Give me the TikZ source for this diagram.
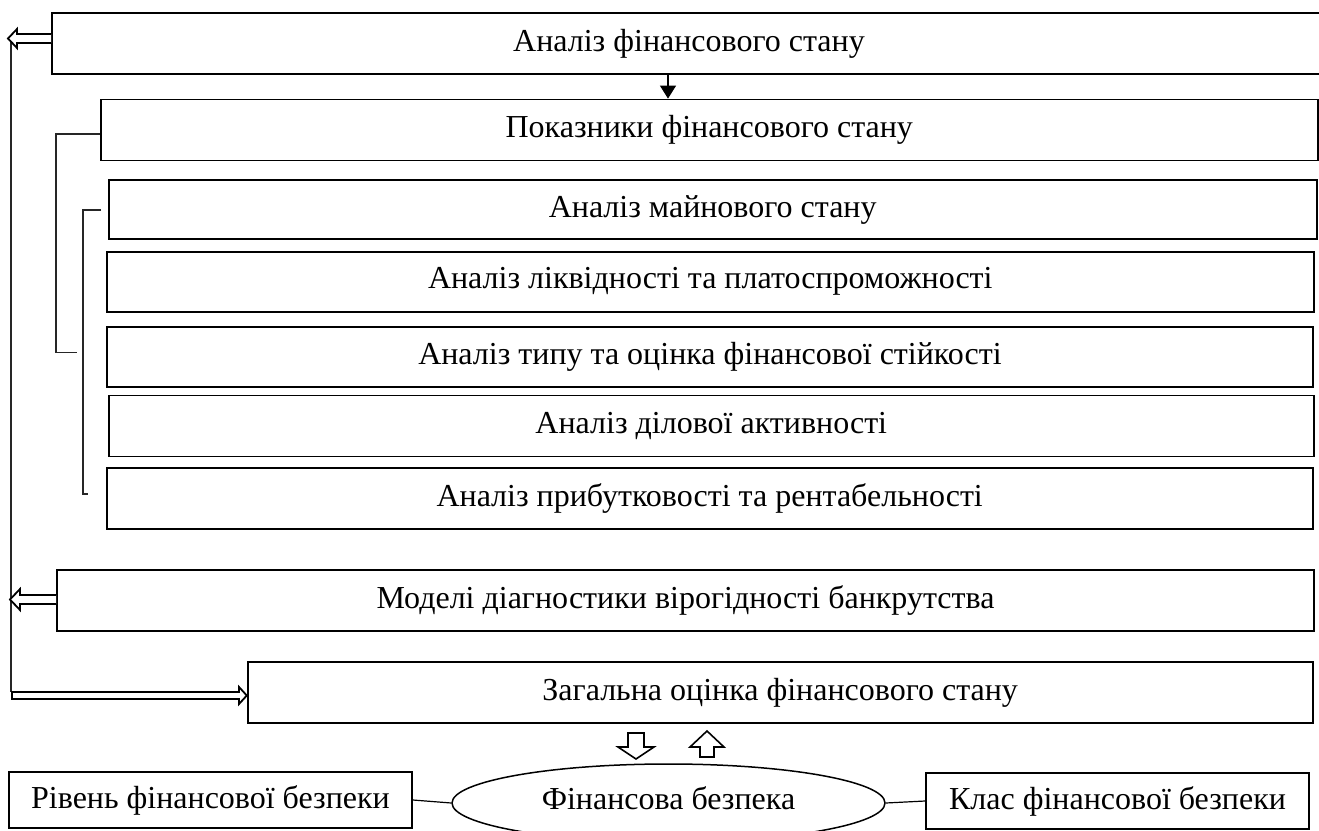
\documentclass[tikz,border=0pt]{standalone}
\usepackage{fontspec}
\setmainfont{Liberation Serif}
\usetikzlibrary{calc,arrows.meta,shapes.geometric}
\begin{document}
\begin{tikzpicture}[x=1pt,y=-1pt,
  txt/.style={font=\fontsize{32}{38}\selectfont},
  box/.style={draw, line width=1.8pt, inner sep=0pt, txt},
  hollow/.style={draw, line width=1.8pt, fill=white, line join=miter},
  link/.style={line width=1.4pt, draw=black!85},
  conn/.style={line width=1.2pt, draw=black}]
\useasboundingbox (0,0) rectangle (1319,830);
\clip (0,0) rectangle (1319,830);

\node[box, minimum width=1274pt, minimum height=61pt] (b1) at (689,43.5) {Аналіз фінансового стану};
\node[box, minimum width=1217pt, minimum height=61pt] (b2) at (709.3,130) {Показники фінансового стану};
\node[box, minimum width=1208pt, minimum height=59pt] (b3) at (712.7,209.5) {Аналіз майнового стану};
\node[box, minimum width=1207pt, minimum height=60pt] (b4) at (710.3,281.6) {Аналіз ліквідності та платоспроможності};
\node[box, minimum width=1206pt, minimum height=60pt] (b5) at (710,356.8) {Аналіз типу та оцінка фінансової стійкості};
\node[box, minimum width=1205pt, minimum height=61pt] (b6) at (711.3,426) {Аналіз ділової активності};
\node[box, minimum width=1206pt, minimum height=61pt] (b7) at (709.7,498.3) {Аналіз прибутковості та рентабельності};
\node[box, minimum width=1257pt, minimum height=61pt] (b8) at (685.5,600.8) {Моделі діагностики вірогідності банкрутства};
\node[box, minimum width=1065pt, minimum height=61pt] (b9) at (780.2,692.5) {Загальна оцінка фінансового стану};
\node[box, minimum width=403pt, minimum height=56pt] (lb) at (210.5,800) {Рівень фінансової безпеки};
\node[box, minimum width=383pt, minimum height=56pt] (rb) at (1117.5,801) {Клас фінансової безпеки};
\node[draw, ellipse, line width=1.5pt, inner sep=0pt, minimum width=433pt, minimum height=78pt] (el) at (668.5,803) {};
\node[txt, inner sep=0pt] (elt) at ($(el.center)+(0,-5)$) {Фінансова безпека};

% arrow b1 -> b2
\coordinate (ax) at (668,0);
\draw[conn, -{Triangle[length=13pt,width=16pt]}] (b1.south -| ax) -- (b2.north -| ax);

% left spine
\coordinate (sp1) at (11,38.5);
\coordinate (sp2) at (11,692);
\draw[link] (sp1) -- (sp2);

% hollow arrow from b1 to spine
\coordinate (y1) at (0,38.5);
\draw[hollow] ($(b1.west|-y1)+(0,-4.5)$) -- (17,34) -- (17,29) -- (8,38.5) -- (17,48) -- (17,43) -- ($(b1.west|-y1)+(0,4.5)$);

% hollow arrow from b8 to spine
\coordinate (y8) at (0,599.5);
\draw[hollow] ($(b8.west|-y8)+(0,-4.5)$) -- (20,595) -- (20,589) -- (10,599.5) -- (20,610) -- (20,604) -- ($(b8.west|-y8)+(0,4.5)$);

% hollow arrow from spine to b9
\coordinate (y9) at (0,695.5);
\draw[hollow] (12,692) -- (239,692) -- (239,687) -- ($(b9.west|-y9)$) -- (239,704) -- (239,699) -- (12,699) -- cycle;

% brackets
\draw[link] (b2.west|-{(0,134)}) -- (56,134) -- (56,352.7) -- (77,352.7);
\draw[link] (101,210) -- (83,210) -- (83,494) -- (88,494);

% block arrows between b9 and ellipse
\draw[hollow, line width=1.6pt] (628,733) -- (644,733) -- (644,747) -- (654,747) -- (636,759) -- (618,747) -- (628,747) -- cycle;
\draw[hollow, line width=1.6pt] (700,757) -- (714,757) -- (714,747) -- (724,747) -- (707,731) -- (690,747) -- (700,747) -- cycle;

% side links
\draw[conn] (lb.east) -- (el.west);
\draw[conn] (el.east) -- (rb.west);
\end{tikzpicture}
\end{document}
